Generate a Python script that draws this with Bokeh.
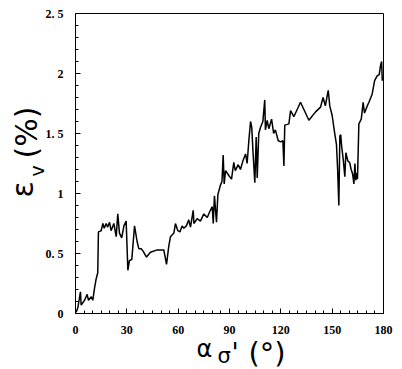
import math
from bokeh.plotting import figure
from bokeh.models import FixedTicker, Label, Range1d, LinearAxis
from bokeh.embed import file_html
from bokeh.resources import INLINE

# alpha_sigma' (degrees) and volumetric strain eps_v (%)
alpha = [0.4, 1.4, 2.9, 3.3, 5.3, 6.8, 7.6, 9.2, 10.1, 11.1, 12.1, 13.0, 13.4, 15.0, 16.0, 16.8,
         17.9, 18.8, 19.9, 20.8, 22.4, 23.8, 24.7, 25.7, 27.0, 28.3, 29.6, 30.6, 31.5, 32.9, 34.5,
         36.0, 37.0, 38.4, 39.5, 41.5, 43.8, 47.7, 51.6, 53.2, 54.5, 55.5, 57.5, 58.4, 59.8, 61.0,
         62.3, 63.3, 64.8, 66.2, 67.2, 68.8, 69.2, 71.1, 73.0, 75.0, 77.0, 78.5, 79.9, 80.5, 81.2,
         82.4, 83.2, 84.7, 85.6, 86.3, 86.9, 87.7, 89.6, 91.2, 92.5, 93.4, 95.1, 96.4, 97.8, 99.4,
         100.3, 101.3, 102.3, 103.0, 103.8, 104.8, 105.6, 106.2, 107.1, 108.1, 109.5, 110.6, 111.0,
         112.0, 113.0, 114.6, 115.8, 116.8, 118.5, 120.0, 121.2, 121.8, 122.3, 124.7, 125.7, 127.6,
         131.5, 136.4, 140.3, 143.2, 144.7, 146.0, 147.7, 148.6, 150.0, 151.4, 152.5, 153.2, 153.9,
         154.5, 155.0, 155.5, 156.5, 157.4, 158.0, 159.2, 160.2, 161.1, 162.0, 162.7, 163.3, 163.8,
         164.3, 164.8, 165.6, 167.0, 168.1, 168.9, 170.5, 171.5, 173.4, 174.8, 176.3, 177.5, 178.3,
         178.9, 179.3]
eps_v = [0.01, 0.05, 0.18, 0.07, 0.11, 0.16, 0.11, 0.14, 0.11, 0.21, 0.29, 0.34, 0.68, 0.69, 0.75, 0.71,
         0.75, 0.72, 0.76, 0.69, 0.75, 0.64, 0.83, 0.67, 0.63, 0.73, 0.77, 0.36, 0.44, 0.45, 0.73,
         0.60, 0.54, 0.54, 0.52, 0.47, 0.51, 0.53, 0.53, 0.41, 0.56, 0.64, 0.67, 0.75, 0.69, 0.68,
         0.73, 0.71, 0.73, 0.78, 0.72, 0.86, 0.75, 0.79, 0.77, 0.83, 0.80, 0.85, 0.89, 0.75, 0.98,
         0.76, 0.99, 1.07, 1.10, 1.32, 1.08, 1.19, 1.15, 1.12, 1.26, 1.19, 1.24, 1.20, 1.27, 1.33,
         1.25, 1.44, 1.60, 1.55, 1.33, 1.09, 1.47, 1.13, 1.50, 1.55, 1.60, 1.78, 1.53,
         1.61, 1.54, 1.62, 1.50, 1.53, 1.44, 1.43, 1.44, 1.23, 1.57, 1.58, 1.69, 1.64,
         1.76, 1.61, 1.68, 1.72, 1.80, 1.73, 1.86, 1.73, 1.65, 1.51, 1.41, 1.20, 0.90,
         1.48, 1.49, 1.40, 1.28, 1.14, 1.34, 1.27, 1.26, 1.20, 1.16, 1.08, 1.25, 1.11,
         1.17, 1.12, 1.58, 1.62, 1.76, 1.67, 1.73, 1.76, 1.83, 1.94, 1.98, 1.99, 2.07,
         2.10, 1.94]

x_ticks = [0, 30, 60, 90, 120, 150, 180]
y_ticks = [0, 0.5, 1, 1.5, 2, 2.5]
y_tick_labels = {0.5: "0. 5", 1.5: "1. 5", 2.5: "2. 5"}
x_lim = (0, 180)
y_lim = (0, 2.5)

W, H = 394, 369
# plot box in canvas pixels
L, R, T, B = 75, 383, 13, 313
kx = (R - L) / (x_lim[1] - x_lim[0])
ky = (B - T) / (y_lim[1] - y_lim[0])
x_range = Range1d(x_lim[0] - L / kx, x_lim[1] + (W - R) / kx)
y_range = Range1d(y_lim[0] - (H - B) / ky, y_lim[1] + T / ky)

p = figure(width=W, height=H, output_backend="svg", toolbar_location=None,
           x_range=x_range, y_range=y_range,
           min_border_left=0, min_border_right=0, min_border_top=0, min_border_bottom=0)
p.background_fill_color = "white"
p.border_fill_color = "white"
p.outline_line_color = None
p.grid.visible = False

p.line(alpha, eps_v, line_color="black", line_width=1.5)

xa = p.xaxis[0]
ya = p.yaxis[0]
xa.fixed_location = y_lim[0]
xa.bounds = x_lim
ya.fixed_location = x_lim[0]
ya.bounds = y_lim

for ax in (xa, ya):
    ax.major_tick_in = 5
    ax.major_tick_out = 0
    ax.minor_tick_in = 3
    ax.minor_tick_out = 0
    ax.axis_line_color = "black"
    ax.major_tick_line_color = "black"
    ax.minor_tick_line_color = "black"
    ax.major_label_text_font = "Liberation Sans Narrow"
    ax.major_label_text_font_style = "bold"
    ax.major_label_text_font_size = "12px"
    ax.major_label_text_color = "black"
    ax.major_label_standoff = 12

xa.ticker = FixedTicker(ticks=x_ticks, minor_ticks=list(range(0, 181, 5)))
ya.ticker = FixedTicker(ticks=y_ticks, minor_ticks=[i / 10 for i in range(0, 26)])
ya.major_label_overrides = y_tick_labels

# top and right edges of the box
top = LinearAxis(fixed_location=y_lim[1], bounds=x_lim, ticker=FixedTicker(ticks=[]),
                 major_label_text_font_size="0px", major_tick_line_color=None,
                 minor_tick_line_color=None, axis_line_color="black")
right = LinearAxis(fixed_location=x_lim[1], bounds=y_lim, ticker=FixedTicker(ticks=[]),
                   major_label_text_font_size="0px", major_tick_line_color=None,
                   minor_tick_line_color=None, axis_line_color="black")
p.add_layout(top, "above")
p.add_layout(right, "right")

def lab(text, px, py, size, angle=0.0):
    # px, py: wanted baseline start in canvas pixels (corrected for descent)
    d = 0.34 * size
    if angle == 0.0:
        py -= d
    else:
        px -= d
    x = x_lim[0] + (px - L) / kx
    y = y_lim[0] + (B - py) / ky
    p.add_layout(Label(x=x, y=y, text=text, angle=angle, text_font="DejaVu Sans",
                       text_font_size=f"{size}px", text_color="black",
                       text_align="left", text_baseline="alphabetic"))

# x-axis label: alpha_sigma'(°)
lab("α", 196, 357, 24)
lab("σ", 217, 363, 21)
lab("'", 231, 361, 26)
lab("(°)", 248, 362, 29)

# y-axis label: eps_v(%)
lab("ε", 32, 197, 30, math.pi / 2)
lab("v", 43, 176, 19, math.pi / 2)
lab("(%)", 36, 158, 30, math.pi / 2)

open("out.html", "w").write(file_html(p, INLINE))
